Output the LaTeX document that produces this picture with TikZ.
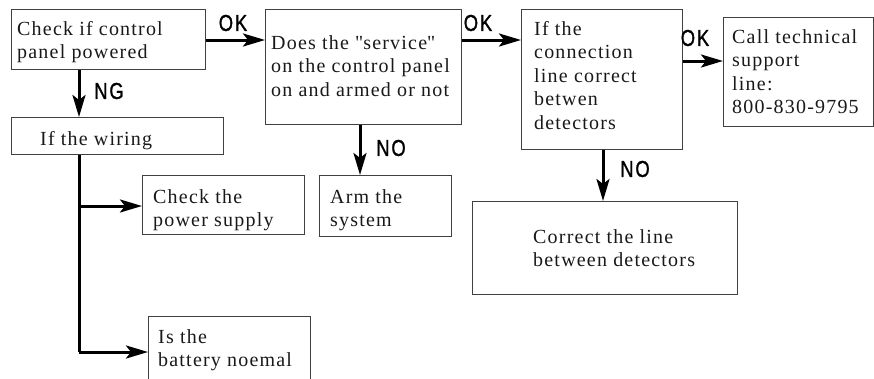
\documentclass[tikz,border=0pt]{standalone}
\usepackage{fontspec}
\setmainfont[LetterSpace=6]{Liberation Serif}
\newfontfamily\plainserif[LetterSpace=6]{Liberation Serif}
\newfontfamily\labfont[FakeStretch=0.8,LetterSpace=8,FakeBold=1.2]{Liberation Sans}
\usetikzlibrary{arrows.meta,calc}
\begin{document}
\begin{tikzpicture}[x=1pt,y=-1pt,
 box/.style={draw=black!75, line width=1pt, inner sep=0, anchor=north west},
 txt/.style={font=\fontsize{20}{23.5}\selectfont, align=left, inner sep=0, anchor=north west, text=black!90},
 lab/.style={font=\labfont\fontsize{23}{23}\selectfont, inner sep=0, text=black},
 arr/.style={line width=3pt, -{Stealth[length=22pt,width=13pt,inset=5pt]}},
 trunk/.style={line width=3pt}]
\useasboundingbox (0,0) rectangle (874,378);
\clip (0,0) rectangle (874,378);
% boxes
\node[box, minimum width=194pt, minimum height=60pt] (b1) at (11,9) {};
\node[box, minimum width=196pt, minimum height=115pt] (b2) at (265,9) {};
\node[box, minimum width=212pt, minimum height=37pt] (b3) at (11,117) {};
\node[box, minimum width=161pt, minimum height=140pt] (b4) at (521,9) {};
\node[box, minimum width=150pt, minimum height=109pt] (b5) at (723,17) {};
\node[box, minimum width=162pt, minimum height=59pt] (pwr) at (142,175) {};
\node[box, minimum width=132pt, minimum height=61pt] (arm) at (319,175) {};
\node[box, minimum width=162pt, minimum height=80pt] (bat) at (148,316) {};
\node[box, minimum width=265pt, minimum height=93pt] (corr) at (472,201) {};
% texts
\node[txt] (t1) at (17,18.5) {\strut Check if control\\panel powered};
\node[txt] (t2) at (271,32.5) {\strut Does the {\plainserif"}service{\plainserif"}\\on the control panel\\on and armed or not};
\node[txt] (t3) at (40,128.5) {\strut If the wiring};
\node[txt] (t4) at (534,18.5) {\strut If the\\connection\\line correct\\betwen\\detectors};
\node[txt] (t5) at (732,26.5) {\strut Call technical\\support\\line:\\800-830-9795};
\node[txt] (t6) at (153,186.5) {\strut Check the\\power supply};
\node[txt] (t7) at (330,186.5) {\strut Arm the\\system};
\node[txt] (t8) at (158,326.5) {\strut Is the\\battery noemal};
\node[txt] (t9) at (533,226.5) {\strut Correct the line\\between detectors};
% connectors
\draw[arr] ([yshift=-31pt]b1.north east) -- ([yshift=-31pt]b2.north west);
\draw[arr] ([yshift=-31pt]b2.north east) -- ([yshift=-31pt]b4.north west);
\draw[arr] ([yshift=-52pt]b4.north east) -- ([yshift=-44pt]b5.north west);
\draw[arr] ([xshift=68pt]b1.south west) -- ([xshift=68pt]b3.north west);
\draw[arr] ([xshift=95pt]b2.south west) -- ([xshift=41pt]arm.north west);
\draw[arr] ([xshift=82pt]b4.south west) -- ([xshift=131pt]corr.north west);
\coordinate (j1) at (79,206);
\coordinate (j2) at (79,352);
\draw[trunk] ([xshift=68pt]b3.south west) -- (j2);
\draw[arr] (j1) -- (pwr.west |- j1);
\draw[arr] (j2) -- (bat.west |- j2);
% labels
\node[lab] (l1) at (233,23) {OK};
\node[lab] (l2) at (478,23) {OK};
\node[lab] (l3) at (695,38) {OK};
\node[lab] (l4) at (109,91) {NG};
\node[lab] (l5) at (391,148) {NO};
\node[lab] (l6) at (635,169) {NO};
\end{tikzpicture}
\end{document}
